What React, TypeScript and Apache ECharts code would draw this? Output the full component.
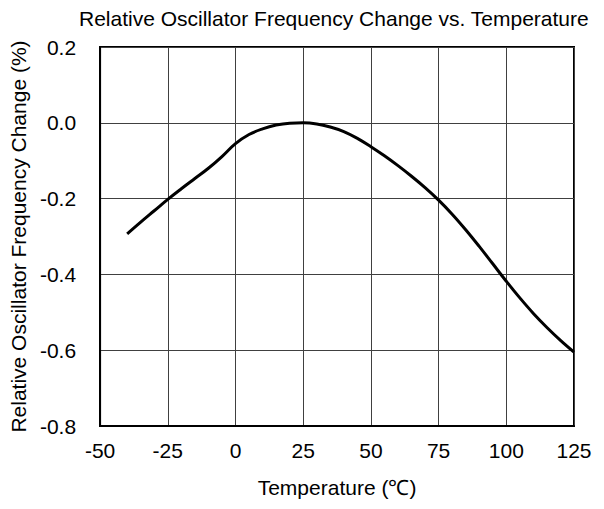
import React, { useEffect, useRef } from "react";
import * as echarts from "echarts";

const temperatures = [-40, -35, -30, -25, -20, -15, -10, -5, 0, 5, 10, 15, 20, 25, 30, 35, 40, 45, 50, 55, 60, 65, 70, 75, 80, 85, 90, 95, 100, 105, 110, 115, 120, 125];
const freqChange = [-0.293, -0.262, -0.232, -0.202, -0.174, -0.147, -0.12, -0.089, -0.055, -0.031, -0.016, -0.006, -0.001, 0.0, -0.003, -0.011, -0.023, -0.041, -0.063, -0.087, -0.113, -0.141, -0.171, -0.204, -0.241, -0.282, -0.326, -0.372, -0.418, -0.462, -0.503, -0.54, -0.574, -0.605];

const titleText = "Relative Oscillator Frequency Change vs. Temperature";
const xName = "Temperature (℃)";
const yName = "Relative Oscillator Frequency Change (%)";

export default function App() {
  const ref = useRef<HTMLDivElement>(null);
  useEffect(() => {
    if (!ref.current) return;
    const chart = echarts.init(ref.current, null, { renderer: "svg" });
    const font = "Arial, 'Liberation Sans', sans-serif";
    chart.setOption({
      animation: false,
      backgroundColor: "#fff",
      title: {
        text: titleText,
        left: 74,
        top: 3,
        textStyle: { fontFamily: font, fontSize: 21, fontWeight: "normal", color: "#000" },
      },
      grid: {
        left: 100,
        right: 30,
        top: 47,
        bottom: 83,
        show: true,
        borderColor: "#000",
        borderWidth: 2,
        backgroundColor: "transparent",
      },
      xAxis: {
        type: "value",
        min: -50,
        max: 125,
        interval: 25,
        name: xName,
        nameLocation: "middle",
        nameGap: 51,
        nameTextStyle: { fontFamily: font, fontSize: 21, color: "#000" },
        axisLine: { show: true, onZero: false, lineStyle: { color: "#000", width: 2 } },
        axisTick: { show: false },
        axisLabel: { margin: 14, fontFamily: font, fontSize: 21, color: "#000" },
        splitLine: { show: true, lineStyle: { color: "#404040", width: 1 } },
      },
      yAxis: {
        type: "value",
        min: -0.8,
        max: 0.2,
        interval: 0.2,
        name: yName,
        nameLocation: "middle",
        nameGap: 64,
        nameTextStyle: { fontFamily: font, fontSize: 21, color: "#000" },
        axisLine: { show: true, onZero: false, lineStyle: { color: "#000", width: 2 } },
        axisTick: { show: false },
        axisLabel: {
          margin: 24,
          fontFamily: font,
          fontSize: 21,
          color: "#000",
          formatter: (v: number) => v.toFixed(1),
        },
        splitLine: { show: true, lineStyle: { color: "#404040", width: 1 } },
      },
      series: [
        {
          type: "line",
          data: temperatures.map((t, i) => [t, freqChange[i]]),
          smooth: 0.4,
          showSymbol: false,
          lineStyle: { color: "#000", width: 3 },
        },
      ],
    });
    return () => chart.dispose();
  }, []);
  return <div ref={ref} style={{ width: 604, height: 509, margin: -8 }} />;
}
